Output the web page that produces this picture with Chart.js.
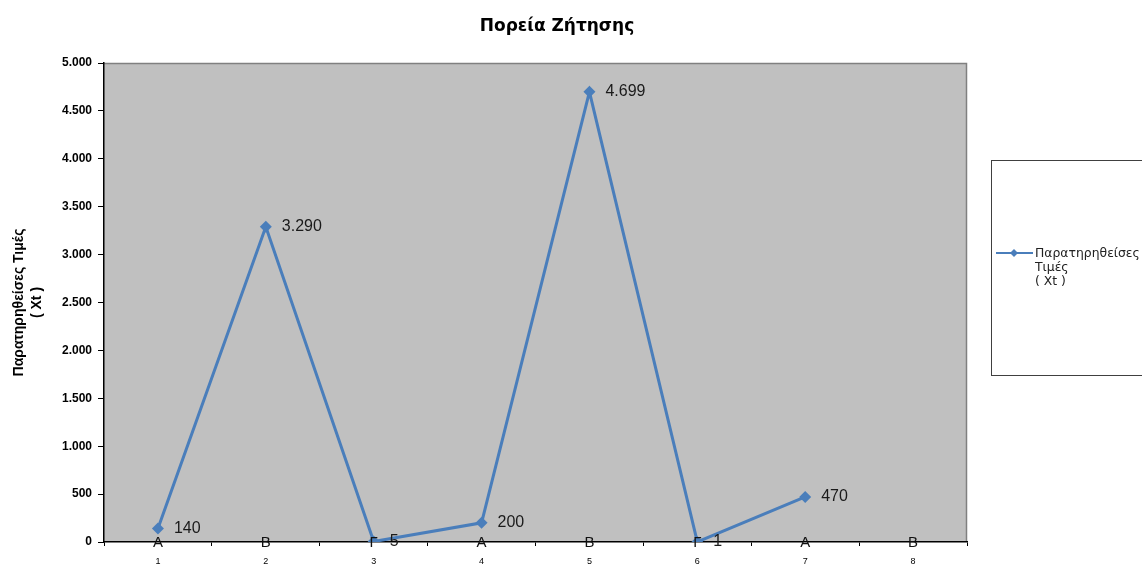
<!DOCTYPE html>
<html>
<head>
<meta charset="utf-8">
<script src="https://cdn.jsdelivr.net/npm/chart.js@4/dist/chart.umd.min.js"></script>
<style>
  html, body { margin: 0; padding: 0; background: #fff; }
  #wrap { width: 1142px; height: 565px; }
</style>
</head>
<body>
<div id="wrap"><canvas id="c" width="1142" height="565"></canvas></div>
<script>
// Period numbers, season of each period, and observed demand
const periods = ['1', '2', '3', '4', '5', '6', '7', '8'];
const seasons = ['Α', 'Β', 'Γ', 'Α', 'Β', 'Γ', 'Α', 'Β'];
const observed = [140, 3290, 5, 200, 4699, 1, 470, null];

const chartTitle = 'Πορεία Ζήτησης';
const yTitle = ['Παρατηρηθείσες Τιμές', '( Xt )'];
const legendLines = ['Παρατηρηθείσες', 'Τιμές', '( Xt )'];

const FONT = '"Liberation Sans", Arial, sans-serif';
const WIDE = '"DejaVu Sans", sans-serif';
const LINE = '#4a7ebb';

// Greek number style: dot as thousands separator
function fmt(v) {
  return String(Math.round(v)).replace(/\B(?=(\d{3})+(?!\d))/g, '.');
}

const frame = {
  id: 'frame',
  beforeDraw(chart) {
    const { ctx, chartArea: a } = chart;
    ctx.save();
    ctx.fillStyle = '#c0c0c0';
    ctx.fillRect(a.left, a.top, a.right - a.left, a.bottom - a.top);
    ctx.strokeStyle = '#808080';
    ctx.lineWidth = 1.5;
    ctx.beginPath();
    ctx.moveTo(a.left, a.top + 0.5);
    ctx.lineTo(a.right - 0.5, a.top + 0.5);
    ctx.lineTo(a.right - 0.5, a.bottom);
    ctx.stroke();
    ctx.restore();
  },
  afterDraw(chart) {
    const { ctx, chartArea: a } = chart;
    const x = chart.scales.x;
    ctx.save();
    // title
    ctx.fillStyle = '#000';
    ctx.font = 'bold 17px ' + WIDE;
    ctx.textAlign = 'center';
    ctx.textBaseline = 'middle';
    ctx.fillText(chartTitle, 557, 27);

    // season letters on the category axis
    ctx.font = '15px ' + FONT;
    ctx.fillStyle = '#111';
    seasons.forEach((s, i) => {
      ctx.fillText(s, x.getPixelForValue(i), a.bottom + 1);
    });

    // value labels
    const meta = chart.getDatasetMeta(0);
    ctx.font = '16px ' + FONT;
    ctx.textAlign = 'left';
    ctx.fillStyle = '#1a1a1a';
    meta.data.forEach((pt, i) => {
      const v = observed[i];
      if (v === null || v === undefined) return;
      ctx.fillText(fmt(v), pt.x + 16, pt.y);
    });

    // legend box
    ctx.strokeStyle = '#404040';
    ctx.lineWidth = 1;
    ctx.strokeRect(991.5, 160.5, 170, 215);
    ctx.strokeStyle = LINE;
    ctx.lineWidth = 2;
    ctx.beginPath();
    ctx.moveTo(996, 253);
    ctx.lineTo(1033, 253);
    ctx.stroke();
    ctx.fillStyle = LINE;
    ctx.beginPath();
    ctx.moveTo(1014, 249);
    ctx.lineTo(1018, 253);
    ctx.lineTo(1014, 257);
    ctx.lineTo(1010, 253);
    ctx.closePath();
    ctx.fill();
    ctx.fillStyle = '#222';
    ctx.font = '12.4px ' + WIDE;
    ctx.textAlign = 'left';
    legendLines.forEach((t, i) => {
      ctx.fillText(t, 1035, 254 + i * 14);
    });
    ctx.restore();
  }
};

new Chart(document.getElementById('c'), {
  type: 'line',
  data: {
    labels: periods,
    datasets: [{
      data: observed,
      borderColor: LINE,
      backgroundColor: LINE,
      borderWidth: 3,
      pointStyle: 'rectRot',
      pointRadius: 6,
      pointBorderWidth: 0,
      pointBackgroundColor: LINE,
      tension: 0,
      spanGaps: false
    }]
  },
  options: {
    responsive: false,
    animation: false,
    devicePixelRatio: 1,
    layout: { padding: { top: 63, right: 175, left: 0, bottom: 0 } },
    plugins: { legend: { display: false }, title: { display: false }, tooltip: { enabled: false } },
    scales: {
      x: {
        offset: true,
        afterFit(s) { s.height = 23; },
        grid: { offset: true, drawOnChartArea: false, color: '#000', tickLength: 4, tickWidth: 1 },
        border: { display: true, color: '#000', width: 1.5 },
        ticks: { color: '#000', font: { family: FONT, size: 9 }, padding: 10, maxRotation: 0 }
      },
      y: {
        min: 0,
        max: 5000,
        afterFit(s) { s.width = 104; },
        grid: { drawOnChartArea: false, color: '#000', tickLength: 6 },
        border: { display: true, color: '#000', width: 1.5 },
        ticks: {
          stepSize: 500,
          color: '#000',
          padding: 6,
          font: { family: FONT, size: 12, weight: 'bold' },
          callback: v => fmt(v)
        },
        title: {
          display: true,
          text: yTitle,
          color: '#000',
          font: { family: FONT, size: 14, weight: 'bold', lineHeight: 1.3 },
          padding: { top: 10, bottom: 0 }
        }
      }
    }
  },
  plugins: [frame]
});
</script>
</body>
</html>
